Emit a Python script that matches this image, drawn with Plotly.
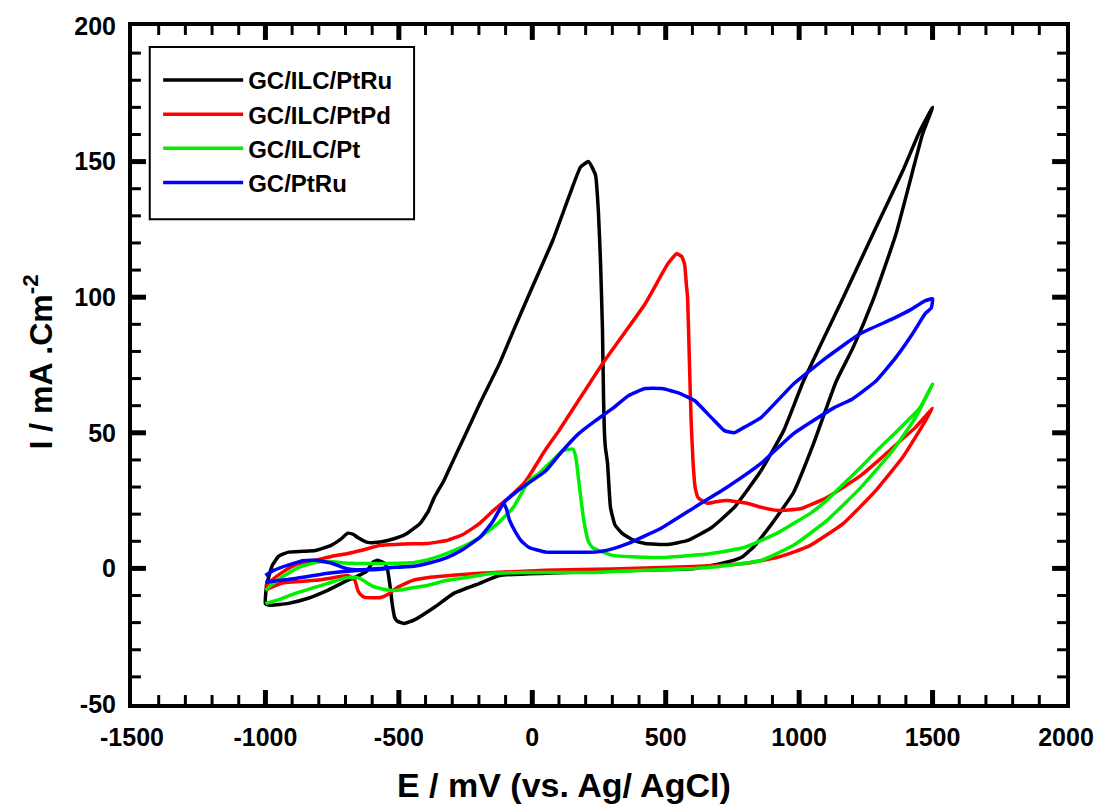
import plotly.graph_objects as go

# ---- data (E in mV vs Ag/AgCl, I in mA cm^-2) ----
ptru_E = [-1000, -995, -975, -950, -914, -860, -813, -754, -715, -691, -670, -654, -617, -580, -542, -500,
          -468, -420, -390, -368, -331, -300, -257, -197, -123, -71, -12, 77, 137, 181, 211, 237, 248, 256,
          263, 267, 270, 274, 282, 293, 310, 337, 380, 423, 508, 582, 671, 757, 857, 942, 1016, 1165, 1287,
          1388, 1451, 1500,
          1462, 1432, 1362, 1276, 1202, 1139, 1054, 979, 920, 879, 830, 783, 708, 608, 400, 200, 51, -123,
          -197, -294, -368, -442, -479, -505, -516, -525, -531, -542, -553, -579, -598, -620, -665, -700,
          -765, -840, -914, -980, -1000]
ptru_I = [-13, -6, 1, 4.5, 6, 6.3, 6.6, 8.5, 11, 13, 12.5, 11.4, 9.6, 9.6, 10.3, 11.5,
          13, 16.6, 21, 26, 32.4, 39, 48, 60.7, 75.5, 87.6, 101, 121, 137, 148, 150, 145, 131, 112,
          88, 63, 51, 44.6, 38.7, 22.5, 16, 12.9, 10.3, 9.2, 8.8, 10.3, 15, 22.5, 36, 50.8, 69, 99.8, 125.5,
          146.5, 161, 170,
          160, 149, 123, 98.7, 81.4, 69, 46, 28, 19.5, 14, 8, 4, 1.8, 0, -0.7, -1.3, -1.8, -2.6,
          -5.5, -9.2, -14.4, -19, -20.3, -19.5, -18, -13, -8, -0.7, 1.8, 3, 2.2, -1, -3.3, -4.8,
          -8, -11, -12.9, -13.6, -13]

ptpd_E = [-1000, -977, -930, -877, -813, -750, -691, -643, -568, -480, -394, -320, -260, -197, -145, -71,
          -23, 51, 100, 263, 423, 508, 541, 560, 571, 578, 582, 589, 595, 602, 610, 622, 656, 700, 731,
          805, 860, 916, 1005, 1102, 1228, 1300, 1350, 1436, 1500,
          1451, 1388, 1287, 1165, 1042, 979, 916, 794, 608, 300, 51, -197, -300, -383, -450, -505, -540,
          -568, -628, -645, -654, -665, -691, -750, -813, -940, -1000]
ptpd_I = [-6.5, -4.4, -1, 1.8, 3, 4.5, 5.5, 6.6, 8.5, 9, 9.2, 10.3, 12.5, 16.6, 21.4, 27.6,
          32.4, 44, 50.8, 75.5, 97.6, 112.3, 116, 115, 112, 104, 99.8, 75.5, 55, 40, 30, 26, 24, 24.8, 25,
          24, 22.5, 21.4, 22, 26, 34, 40, 44.5, 52, 59,
          50.8, 41, 28.7, 16.5, 8.5, 6, 4, 1.8, 0.7, -0.2, -0.7, -1.8, -2.5, -3.3, -4.5, -7, -9.5,
          -10.7, -10.7, -9.5, -8, -4.4, -2.6, -3.5, -4.4, -5.5, -8]

pt_E = [-1000, -970, -940, -900, -877, -813, -760, -700, -640, -568, -442, -380, -320, -260, -197, -130,
        -71, -12, 25, 115, 152, 163, 174, 193, 210, 226, 300, 486, 671, 794, 916, 979, 1042, 1102, 1165,
        1228, 1287, 1350, 1451, 1500,
        1436, 1350, 1228, 1102, 979, 857, 731, 608, 400, 237, -23, -145, -200, -271, -320, -394, -442,
        -494, -540, -568, -600, -617, -640, -665, -700, -765, -888, -950, -1000]
pt_I = [-8, -5.5, -3.3, -1, 0.4, 2.2, 2.5, 2, 1.8, 1.8, 2.2, 3.5, 5.5, 8, 11.4, 16.5,
        22.5, 32.4, 35, 43.4, 44, 41, 32.4, 17.7, 10, 7.7, 4.8, 4, 5.5, 7.7, 12.9, 16.6, 20.3, 25, 31,
        37, 43, 49, 59, 68,
        55.6, 43.4, 29.5, 17.5, 8.5, 2.9, 1.1, 0, -0.8, -1.5, -1.5, -1.8, -2.6, -3.7, -4.4, -6.3, -7,
        -8, -8, -7.4, -6.5, -5.5, -4, -3.3, -3.5, -5.5, -9.2, -11.5, -13]

gcptru_E = [-1000, -888, -765, -643, -568, -516, -442, -394, -320, -260, -197, -150, -108, -50, 51, 110,
            174, 237, 300, 360, 423, 486, 545, 608, 671, 720, 757, 794, 857, 979, 1102, 1228, 1350, 1420,
            1473, 1500,
            1495, 1473, 1425, 1362, 1287, 1200, 1130, 979, 857, 731, 608, 486, 360, 300, 237, 150, 51,
            -12, -40, -60, -86, -97, -108, -150, -197, -260, -320, -394, -442, -516, -568, -643, -700,
            -754, -813, -860, -940, -975, -1000]
gcptru_I = [-5.1, -3.7, -1.8, -0.7, -0.3, 0.4, 0.8, 1.8, 4, 7, 11.4, 17, 24, 29, 36, 43,
            49.7, 54.5, 58.9, 63.7, 66.3, 66.3, 64.8, 61.9, 55.6, 50.8, 50, 52, 55.6, 68, 77.7, 86.5, 92, 95.5,
            98.7, 99.4,
            96, 94, 86.5, 77.7, 69, 62.5, 59.2, 49.7, 38.7, 30, 22.5, 15, 9.2, 7.2, 6, 6, 6,
            7.7, 10, 12.9, 18, 22, 24, 17, 11.4, 7, 4, 1.8, 0.8, 0.4, 0, -0.5, 0,
            2, 3, 2.8, 0.4, -1, -2.6]

names = ["GC/ILC/PtRu", "GC/ILC/PtPd", "GC/ILC/Pt", "GC/PtRu"]
colors = ["#000000", "#ff0000", "#00ee00", "#0000ff"]
series = [(ptru_E, ptru_I), (ptpd_E, ptpd_I), (pt_E, pt_I), (gcptru_E, gcptru_I)]

x_range = [-1500, 2000]
y_range = [-50, 200]
x_ticks = [-1500, -1000, -500, 0, 500, 1000, 1500, 2000]
y_ticks = [-50, 0, 50, 100, 150, 200]
x_minor = [v for v in range(-1500, 2001, 100) if v not in x_ticks]
y_minor = [v for v in range(-50, 201, 10) if v not in y_ticks]

FONT = "Liberation Sans, Arial, sans-serif"

W, H = 1106, 805
ML, MR, MT, MB = 132, 31, 23, 101
plot_w, plot_h = W - ML - MR, H - MT - MB

fig = go.Figure()

# tick marks on all four sides as line traces (length given in pixels, converted via axis scale)
def tick_trace(xv, yv, len_px, width):
    dx = len_px * (x_range[1] - x_range[0]) / plot_w
    dy = len_px * (y_range[1] - y_range[0]) / plot_h
    xs, ys = [], []
    for v in xv:
        xs += [v, v, None, v, v, None]
        ys += [y_range[0], y_range[0] + dy, None, y_range[1], y_range[1] - dy, None]
    for v in yv:
        xs += [x_range[0], x_range[0] + dx, None, x_range[1], x_range[1] - dx, None]
        ys += [v, v, None, v, v, None]
    fig.add_trace(go.Scatter(x=xs, y=ys, mode="lines", line=dict(color="black", width=width),
                             showlegend=False, hoverinfo="skip", connectgaps=False))

for (E, I), nm, c in zip(series, names, colors):
    fig.add_trace(go.Scatter(x=E, y=I, mode="lines", name=nm,
                             line=dict(color=c, width=3.5, shape="spline", smoothing=0.4)))

tick_trace(x_ticks[1:-1], y_ticks[1:-1], 14, 5)
tick_trace(x_minor, y_minor, 9, 3)

tickfont = dict(family=FONT, size=25, color="black", weight="bold")

fig.update_layout(
    xaxis=dict(range=x_range, tickmode="array", tickvals=x_ticks, ticktext=[str(v) for v in x_ticks],
               showgrid=False, zeroline=False, showline=True, linecolor="black", linewidth=4,
               mirror=True, ticks="inside", tickcolor="black", tickwidth=4, ticklen=14,
               ticklabelstandoff=8, tickfont=tickfont),
    yaxis=dict(range=y_range, tickmode="array", tickvals=y_ticks, ticktext=[str(v) for v in y_ticks],
               showgrid=False, zeroline=False, showline=True, linecolor="black", linewidth=4,
               mirror=True, ticks="inside", tickcolor="black", tickwidth=4, ticklen=14,
               ticklabelstandoff=7, tickfont=tickfont),
)

fig.add_annotation(text="E / mV (vs. Ag/ AgCl)", xref="paper", yref="paper", x=0.462, y=-0.119,
                   xanchor="center", yanchor="middle", showarrow=False,
                   font=dict(family=FONT, size=34, color="black", weight="bold"))
fig.add_annotation(text="I / mA .Cm<sup>-2</sup>", xref="paper", yref="paper", x=-0.1007, y=0.505,
                   xanchor="center", yanchor="middle", showarrow=False, textangle=-90,
                   font=dict(family=FONT, size=32, color="black", weight="bold"))

# legend frame
fig.add_shape(type="rect", xref="paper", yref="paper", x0=0.019, x1=0.302, y0=0.715, y1=0.969,
              line=dict(color="black", width=2), fillcolor="rgba(0,0,0,0)")

fig.update_layout(
    width=W, height=H,
    margin=dict(l=ML, r=MR, t=MT, b=MB),
    paper_bgcolor="white", plot_bgcolor="white",
    legend=dict(x=0.028, y=0.953, xanchor="left", yanchor="top", bgcolor="rgba(0,0,0,0)",
                borderwidth=0, itemwidth=80, tracegroupgap=0,
                font=dict(family=FONT, size=24, color="black", weight="bold")),
)

fig.write_html("out.html")
